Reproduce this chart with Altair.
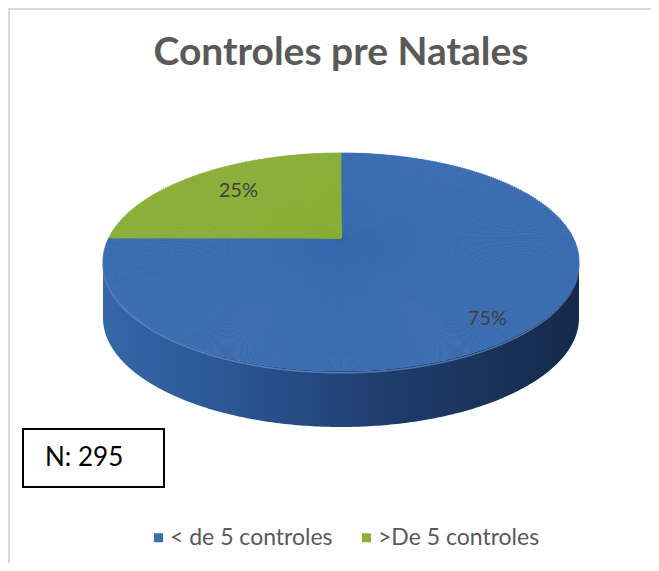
import math
import numpy as np
import pandas as pd
import altair as alt

# ---------------- data ----------------
TITLE = "Controles pre Natales"
CATEGORIES = ["< de 5 controles", ">De 5 controles"]
PERCENTS = [75, 25]
N_LABEL = "N: 295"

# ---------------- style ----------------
COLORS = ["#3a6cb0", "#8aae38"]
FONT = "Lato"
OFF = 8                      # page margin
W, H = 643, 555              # whole drawing (view) size
CX, CY = 341 - OFF, 262 - OFF   # centre of the top ellipse
A, B = 238, 109              # semi axes of the top ellipse
PX, PY = 341 - OFF, 238 - OFF   # apex of the slices (perspective)
DEPTH = 56                   # thickness of the 3D pie
STEPS = 720                  # sub-slices used to draw the elliptical top
LABEL_K = [(0.87, 1.05), (0.61, 0.61)]  # label placement factors (style)


def ray(phi):
    """distance from apex to ellipse border along angle phi (0 = 12 o'clock, clockwise)"""
    ux, uy = math.sin(phi), -math.cos(phi)
    dy0 = PY - CY
    qa = ux * ux / (A * A) + uy * uy / (B * B)
    qb = 2 * uy * dy0 / (B * B)
    qc = dy0 * dy0 / (B * B) - 1
    return (-qb + math.sqrt(qb * qb - 4 * qa * qc)) / (2 * qa)


total = float(sum(PERCENTS))

# top face table built from the values (each slice split in thin sub-slices)
rows = []
start = 0.0
mids = []
for cat, v in zip(CATEGORIES, PERCENTS):
    n = max(1, int(round(v / total * STEPS)))
    for j in range(n):
        t0 = start + j * v / n
        t1 = start + (j + 1) * v / n
        phi = 2 * math.pi * (t0 + t1) / 2 / total
        rows.append({"cat": cat, "t0": t0, "t1": t1, "r": ray(phi)})
    mids.append(2 * math.pi * (start + v / 2) / total)
    start += v
top_df = pd.DataFrame(rows)

# side (cylinder wall) table
s = np.linspace(0, math.pi, 241)
side_df = pd.DataFrame({
    "x": CX - A * np.cos(s),
    "y": CY + B * np.sin(s),
})
side_df["y2"] = side_df["y"] + DEPTH
side_df["yl"] = side_df["y"] + 1.8

# percentage labels built from the values
lab_rows = []
for cat, v, phi, (kx, ky) in zip(CATEGORIES, PERCENTS, mids, LABEL_K):
    lab_rows.append({
        "cat": cat,
        "txt": f"{round(v / total * 100)}%",
        "lx": PX + kx * A * math.sin(phi),
        "ly": PY - ky * B * math.cos(phi),
    })
lab_df = pd.DataFrame(lab_rows)

color_scale = alt.Scale(domain=CATEGORIES, range=COLORS)

side = alt.Chart(side_df).mark_area(
    color=alt.Gradient(
        gradient="linear",
        stops=[
            alt.GradientStop(color="#3667a8", offset=0),
            alt.GradientStop(color="#2a5391", offset=0.3),
            alt.GradientStop(color="#1f3d6c", offset=0.6),
            alt.GradientStop(color="#15294a", offset=1),
        ],
        x1=0, x2=1, y1=0, y2=0,
    )
).encode(
    x=alt.X("x:Q", scale=None, axis=None),
    y=alt.Y("y:Q", scale=None, axis=None),
    y2="y2:Q",
)

lip = alt.Chart(side_df).mark_line(color="#6f9ddb", strokeWidth=1.5, opacity=0.6).encode(
    x=alt.X("x:Q", scale=None, axis=None),
    y=alt.Y("yl:Q", scale=None, axis=None),
)

top = alt.Chart(top_df).mark_arc(strokeWidth=0.8).encode(
    theta=alt.Theta("t0:Q", scale=alt.Scale(domain=[0, total]), stack=False),
    theta2="t1:Q",
    radius=alt.Radius("r:Q", scale=None, stack=False),
    color=alt.Color(
        "cat:N",
        scale=color_scale,
        legend=alt.Legend(
            orient="none",
            legendX=135,
            legendY=518,
            direction="horizontal",
            title=None,
            symbolType="square",
            symbolSize=81,
            symbolStrokeWidth=0,
            symbolOffset=4,
            labelFont=FONT,
            labelFontSize=23,
            labelColor="#595959",
            labelLimit=400,
            labelOffset=0,
            columnPadding=18,
            padding=0,
        ),
    ),
    stroke=alt.Stroke("cat:N", scale=color_scale, legend=None),
    x=alt.value(PX),
    y=alt.value(PY),
)

labels = alt.Chart(lab_df).mark_text(
    font=FONT, fontSize=20, color="#404040", align="center", baseline="middle"
).encode(
    x=alt.X("lx:Q", scale=None, axis=None),
    y=alt.Y("ly:Q", scale=None, axis=None),
    text="txt:N",
)

title = alt.Chart(pd.DataFrame({"t": [TITLE]})).mark_text(
    font=FONT, fontSize=39, fontWeight="bold", color="#595959",
    align="center", baseline="alphabetic",
).encode(text="t:N", x=alt.value(341 - OFF), y=alt.value(65 - OFF))

nbox = alt.Chart(pd.DataFrame({"t": [N_LABEL]})).mark_rect(
    fill="white", stroke="black", strokeWidth=2
).encode(
    x=alt.value(23 - OFF), x2=alt.value(164 - OFF),
    y=alt.value(429 - OFF), y2=alt.value(487 - OFF),
)

ntext = alt.Chart(pd.DataFrame({"t": [N_LABEL]})).mark_text(
    font=FONT, fontSize=26, color="black", align="left", baseline="alphabetic"
).encode(text="t:N", x=alt.value(45 - OFF), y=alt.value(466 - OFF))

frame_left = alt.Chart(pd.DataFrame({"t": [0]})).mark_rule(
    color="#d9d9d9", strokeWidth=2
).encode(x=alt.value(1), y=alt.value(0), y2=alt.value(H))

frame_top = alt.Chart(pd.DataFrame({"t": [0]})).mark_rule(
    color="#d9d9d9", strokeWidth=2
).encode(x=alt.value(0), x2=alt.value(W), y=alt.value(1))

chart = alt.layer(
    frame_left, frame_top, side, lip, top, labels, title, nbox, ntext
).properties(
    width=W, height=H, padding=0,
    autosize=alt.AutoSizeParams(type="none"),
    background="white",
).configure_view(stroke=None)

chart.save("out.html", embed_options={"renderer": "svg", "actions": False})
